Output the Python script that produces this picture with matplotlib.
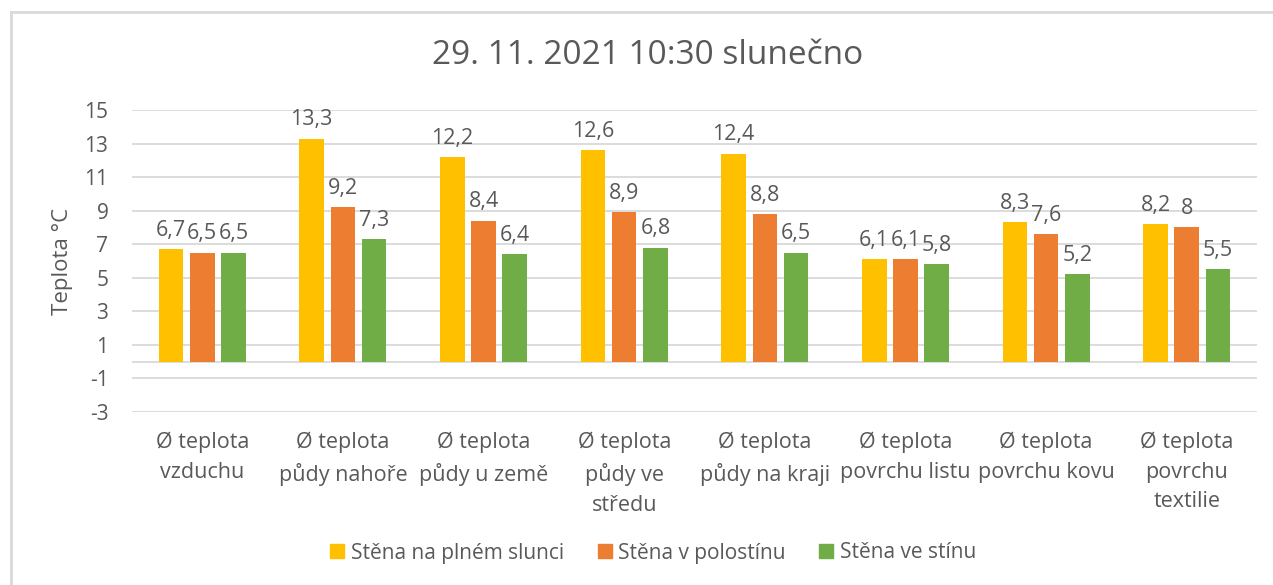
import numpy as np
import matplotlib.pyplot as plt
from matplotlib.lines import Line2D

plt.rcParams['font.family'] = ['Open Sans', 'DejaVu Sans']
plt.rcParams['axes.unicode_minus'] = False

# data
categories = ["Ø teplota\nvzduchu", "Ø teplota\npůdy nahoře", "Ø teplota\npůdy u země",
              "Ø teplota\npůdy ve\nstředu", "Ø teplota\npůdy na kraji",
              "Ø teplota\npovrchu listu", "Ø teplota\npovrchu kovu",
              "Ø teplota\npovrchu\ntextilie"]
slunce = [6.7, 13.3, 12.2, 12.6, 12.4, 6.1, 8.3, 8.2]
polostin = [6.5, 9.2, 8.4, 8.9, 8.8, 6.1, 7.6, 8.0]
stin = [6.5, 7.3, 6.4, 6.8, 6.5, 5.8, 5.2, 5.5]
series_names = ["Stěna na plném slunci", "Stěna v polostínu", "Stěna ve stínu"]
colors = ["#FFC000", "#ED7D31", "#70AD47"]
yticks = list(range(-3, 16, 2))

txt = "#595959"
grid = "#D9D9D9"

fig = plt.figure(figsize=(12.73, 5.85), dpi=100)
ax = fig.add_axes([132/1273, (585-412)/585, (1257-132)/1273, (412-110)/585])

x = np.arange(len(categories))
w = 0.175
off = 0.222

def fmt(v):
    s = ("%.1f" % v).rstrip("0").rstrip(".")
    return s.replace(".", ",")

for i, (vals, c) in enumerate(zip([slunce, polostin, stin], colors)):
    bars = ax.bar(x + (i - 1) * off, vals, w, color=c, zorder=3)
    ax.bar_label(bars, labels=[fmt(v) for v in vals], padding=6,
                 fontsize=15.5, color=txt)

ax.set_ylim(-3, 15)
ax.set_xlim(-0.5, len(categories) - 0.5)
ax.set_yticks(yticks)
for t in yticks:
    ax.axhline(t, color=grid, lw=1.3, zorder=1)
ax.axhline(0, color=grid, lw=1.3, zorder=2)

ax.set_xticks(x)
ax.set_xticklabels(categories, fontsize=15.5, color=txt, linespacing=1.55, va="top")
ax.tick_params(axis="y", length=0, labelsize=15, labelcolor=txt, pad=17)
ax.tick_params(axis="x", length=0, labelcolor=txt, pad=14)
for s in ax.spines.values():
    s.set_visible(False)

ax.set_ylabel("Teplota °C", fontsize=16, color=txt, labelpad=8)

fig.text(648/1273, 1 - 55/585, "29. 11. 2021 10:30 slunečno", fontsize=24,
         color=txt, ha="center", va="center")

handles = [Line2D([], [], marker="s", linestyle="none", markersize=10,
                  markerfacecolor=c, markeredgecolor=c) for c in colors]
fig.legend(handles, series_names, loc="center", bbox_to_anchor=(653/1273, 1 - 553/585),
           ncol=3, frameon=False, fontsize=15, labelcolor=txt,
           handlelength=0.7, handletextpad=0.3, columnspacing=1.6)

# outer chart border (left and top visible)
fig.add_artist(Line2D([11/1273, 11/1273], [0, 1 - 12/585], color=grid, lw=2,
                      transform=fig.transFigure))
fig.add_artist(Line2D([11/1273, 1], [1 - 12/585, 1 - 12/585], color=grid, lw=2,
                      transform=fig.transFigure))

fig.savefig("out.png", dpi=100, facecolor="white")
